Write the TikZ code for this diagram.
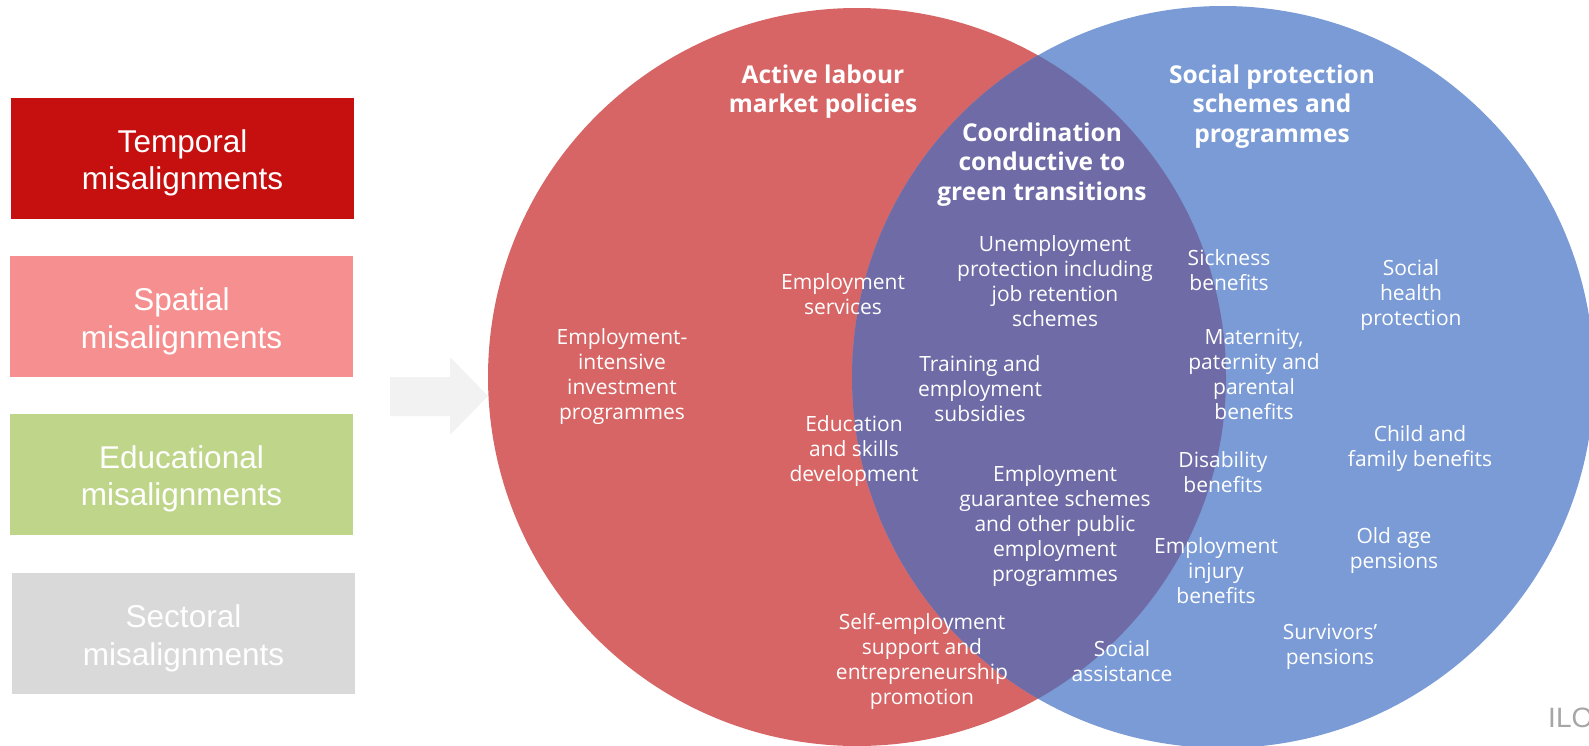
\documentclass[tikz,border=0pt]{standalone}
\usepackage{fontspec}
\setmainfont{Liberation Sans}
\newfontfamily\opensans{Open Sans}
\usetikzlibrary{positioning}
\definecolor{temporalred}{HTML}{C61010}
\definecolor{spatialpink}{HTML}{F69090}
\definecolor{educgreen}{HTML}{BFD68A}
\definecolor{sectorgrey}{HTML}{D9D9D9}
\definecolor{almred}{HTML}{D76565}
\definecolor{spblue}{HTML}{7A9BD6}
\definecolor{coordpurple}{HTML}{6E6BA6}
\definecolor{arrowgrey}{HTML}{F2F2F2}
\definecolor{ilogrey}{HTML}{A6A6A6}

\begin{document}
\begin{tikzpicture}[
  x=1pt, y=-1pt,
  misbox/.style={minimum width=343pt, minimum height=121pt, inner sep=0pt},
  boxtext/.style={align=center, text=white, yshift=-5pt,
                  font=\fontsize{31.5}{37.5}\selectfont},
  heading/.style={align=center, text=white,
                  font=\opensans\bfseries\fontsize{24.5}{29.4}\selectfont},
  item/.style={align=center, text=white,
               font=\opensans\fontsize{21}{25}\selectfont}
]
\useasboundingbox (0,0) rectangle (1589,745);

\node[misbox, fill=temporalred, label={[boxtext]center:Temporal\\misalignments}] (temporal) at (182.5,158) {};
\node[misbox, fill=spatialpink, label={[boxtext]center:Spatial\\misalignments}] (spatial) at (181.5,316.5) {};
\node[misbox, fill=educgreen, label={[boxtext]center:Educational\\misalignments}] (educational) at (181.5,474) {};
\node[misbox, fill=sectorgrey, label={[boxtext]center:Sectoral\\misalignments}] (sectoral) at (183.5,633.5) {};

\fill[arrowgrey] (390,377) -- (450,377) -- (450,357) -- (488,396)
  -- (450,435) -- (450,416) -- (390,416) -- cycle;

\fill[almred] (857,377) circle[radius=369pt];
\fill[spblue] (1223,377) circle[radius=371pt];
\begin{scope}
  \clip (857,377) circle[radius=369pt];
  \fill[coordpurple] (1223,377) circle[radius=371pt];
\end{scope}

\node[heading] (alm) at (823,91.5) {Active labour\\market policies};
\node[heading] (sps) at (1272,106.5) {Social protection\\schemes and\\programmes};
\node[heading] (coord) at (1042,164.5) {Coordination\\conductive to\\green transitions};

\node[item] (eiip) at (622,377) {Employment-\\intensive\\investment\\programmes};
\node[item] (empserv) at (843,294.5) {Employment\\services};
\node[item] (unemp) at (1055,281) {Unemployment\\protection including\\job retention\\schemes};
\node[item] (sickness) at (1229,270.5) {Sickness\\benefits};
\node[item] (health) at (1411,295.5) {Social\\health\\protection};
\node[item] (training) at (980,389) {Training and\\employment\\subsidies};
\node[item] (maternity) at (1254,374) {Maternity,\\paternity and\\parental\\benefits};
\node[item] (education) at (854,451.5) {Education\\and skills\\development};
\node[item] (child) at (1420,448.5) {Child and\\family benefits};
\node[item] (disability) at (1223,472.5) {Disability\\benefits};
\node[item] (guarantee) at (1055,526) {Employment\\guarantee schemes\\and other public\\employment\\programmes};
\node[item] (injury) at (1216,571) {Employment\\injury\\benefits};
\node[item] (oldage) at (1394,550.5) {Old age\\pensions};
\node[item] (selfemp) at (922,661) {Self-employment\\support and\\entrepreneurship\\promotion};
\node[item] (socassist) at (1122,661.5) {Social\\assistance};
\node[item] (survivors) at (1330,647) {Survivors’\\pensions};

\node[anchor=base west, text=ilogrey, font=\fontsize{28}{32}\selectfont, inner sep=0pt] (ilo) at (1548,727) {ILO};
\end{tikzpicture}
\end{document}
